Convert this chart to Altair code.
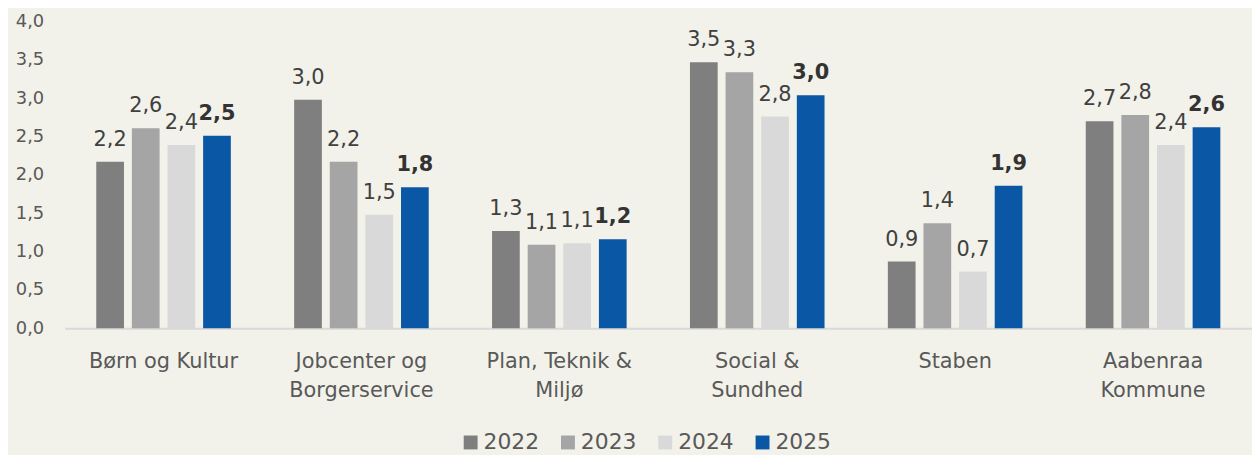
import altair as alt
import pandas as pd

categories = ["Børn og Kultur", "Jobcenter og\nBorgerservice", "Plan, Teknik &\nMiljø",
              "Social &\nSundhed", "Staben", "Aabenraa\nKommune"]
years = ["2022", "2023", "2024", "2025"]
v2022 = [2.17, 2.98, 1.27, 3.47, 0.87, 2.70]
v2023 = [2.61, 2.17, 1.09, 3.34, 1.37, 2.78]
v2024 = [2.39, 1.48, 1.11, 2.76, 0.74, 2.39]
v2025 = [2.51, 1.84, 1.16, 3.04, 1.86, 2.62]
colors = ["#7f7f7f", "#a5a5a5", "#d9d9d9", "#0a58a5"]
y_ticks = [0, 0.5, 1, 1.5, 2, 2.5, 3, 3.5, 4]

rows = []
for yr, vals in zip(years, [v2022, v2023, v2024, v2025]):
    for c, v in zip(categories, vals):
        rows.append({"cat": c, "year": yr, "value": v})
df = pd.DataFrame(rows)

FONT = "DejaVu Sans"

x = alt.X("cat:N", sort=categories, title=None,
          scale=alt.Scale(range=[0, 1196], paddingInner=0.28, paddingOuter=0.14),
          axis=alt.Axis(labelExpr="split(datum.label, '\\n')", labelFontSize=21,
                        labelColor="#595959", labelLineHeight=30, ticks=False,
                        domainColor="#d9d9d9", domainWidth=2, labelPadding=22,
                        labelAngle=0, labelLimit=0, labelFont=FONT))
xo = alt.XOffset("year:N", sort=years,
                 scale=alt.Scale(paddingInner=0.222, paddingOuter=0.111))
y = alt.Y("value:Q", title=None,
          scale=alt.Scale(domain=[0, 4], nice=False),
          axis=alt.Axis(values=y_ticks, grid=False, ticks=False, domain=False,
                        labelExpr="replace(format(datum.value, '.1f'), '.', ',')",
                        labelFontSize=18, labelColor="#595959", labelPadding=21,
                        labelFont=FONT))

base = alt.Chart(df)

bars = base.mark_bar().encode(
    x=x, xOffset=xo, y=y,
    color=alt.Color("year:N", sort=years,
                    scale=alt.Scale(domain=years, range=colors),
                    legend=alt.Legend(orient="none", legendX=398, legendY=413,
                                      direction="horizontal", title=None,
                                      symbolType="square",
                                      symbolSize=196, symbolStrokeWidth=0,
                                      labelFontSize=22, labelColor="#595959",
                                      labelFont=FONT, columnPadding=18,
                                      labelOffset=2)),
)

label_expr = "replace(format(datum.value, '.1f'), '.', ',')"

text_reg = base.transform_filter("datum.year != '2025'").transform_calculate(
    lbl=label_expr
).mark_text(baseline="alphabetic", dy=-16, fontSize=21, color="#404040", font=FONT).encode(
    x=x, xOffset=xo, y=y, text="lbl:N")

text_bold = base.transform_filter("datum.year == '2025'").transform_calculate(
    lbl=label_expr
).mark_text(baseline="alphabetic", dy=-16, fontSize=21, color="#333333", font=FONT,
            fontWeight="bold").encode(
    x=x, xOffset=xo, y=y, text="lbl:N")

chart = alt.layer(bars, text_reg, text_bold).properties(
    width=1179, height=309,
    padding={"left": 7, "top": 3, "right": 0, "bottom": 0},
    background="#f2f2ea",
).configure_view(stroke=None)

chart.save("out.html", embed_options={"renderer": "svg", "actions": False})
